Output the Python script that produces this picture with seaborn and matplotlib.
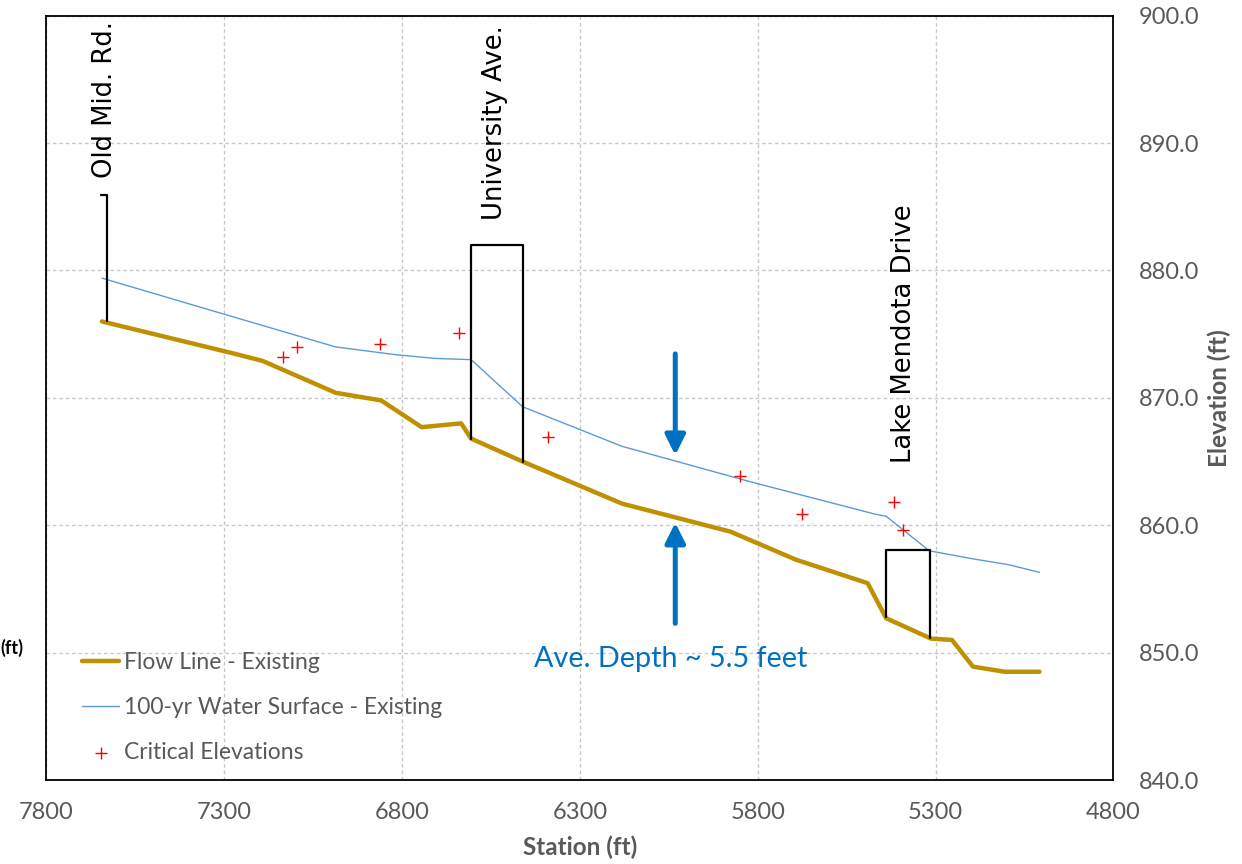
import matplotlib
matplotlib.use("Agg")
import matplotlib.pyplot as plt
import seaborn as sns
import pandas as pd
from matplotlib.ticker import MultipleLocator, FormatStrFormatter

# ---------------- data ----------------
flow_station = [7644, 7276, 7192, 6987, 6859, 6745, 6634, 6606, 6461, 6182,
                5877, 5693, 5491, 5439, 5313, 5254, 5195, 5106, 5008]
flow_elev = [876.0, 873.5, 872.9, 870.4, 869.8, 867.7, 868.0, 866.8, 865.0, 861.7,
             859.5, 857.3, 855.45, 852.7, 851.1, 851.0, 848.9, 848.5, 848.5]

ws_station = [7644, 7280, 6987, 6821, 6709, 6606, 6461, 6182, 5819, 5474,
              5439, 5318, 5203, 5094, 5008]
ws_elev = [879.4, 876.4, 874.0, 873.4, 873.1, 873.0, 869.3, 866.2, 863.4, 860.9,
           860.7, 858.0, 857.4, 856.9, 856.3]

crit_station = [7135, 7096, 6861, 6639, 6390, 5851, 5675, 5418, 5393]
crit_elev = [873.2, 874.0, 874.2, 875.1, 866.9, 863.9, 860.9, 861.8, 859.6]

old_mid_x = [7631, 7631, 7647]
old_mid_y = [876.0, 885.9, 885.9]
univ_x = [6606, 6606, 6461, 6461]
univ_y = [866.8, 882.0, 882.0, 865.0]
lake_x = [5439, 5439, 5315, 5315]
lake_y = [852.8, 858.05, 858.05, 851.15]

bridge_names = ["Old Mid. Rd.", "University Ave.", "Lake Mendota Drive"]
bridge_label_x = [7636, 6540, 5389]
bridge_label_y = [887.3, 883.95, 864.9]

depth_arrow_x = 6032
depth_down = (873.45, 865.5)
depth_up = (852.3, 860.2)
depth_text = "Ave. Depth ~ 5.5 feet"
depth_text_xy = (6046, 849.5)

x_ticks = [7800, 7300, 6800, 6300, 5800, 5300, 4800]

# ---------------- style ----------------
sns.set_theme(style="white")
plt.rcParams['font.family'] = ['Lato', 'DejaVu Sans']

GRAY = "#595959"
GOLD = "#BF9000"
BLUE = "#5B9BD5"
DARKBLUE = "#0070C0"

fig = plt.figure(figsize=(12.42, 8.64), dpi=100)
ax = fig.add_axes([0.0374, 0.0972, 0.8591, 0.8846])

flow_df = pd.DataFrame({"Station": flow_station, "Elevation": flow_elev})
ws_df = pd.DataFrame({"Station": ws_station, "Elevation": ws_elev})
crit_df = pd.DataFrame({"Station": crit_station, "Elevation": crit_elev})

sns.lineplot(data=flow_df, x="Station", y="Elevation", ax=ax, color=GOLD,
             linewidth=3.2, sort=False, estimator=None, label="Flow Line - Existing")
sns.lineplot(data=ws_df, x="Station", y="Elevation", ax=ax, color=BLUE,
             linewidth=1.0, sort=False, estimator=None,
             label="100-yr Water Surface - Existing")
sns.scatterplot(data=crit_df, x="Station", y="Elevation", ax=ax, color="red",
                marker="+", s=80, linewidth=1.0, label="Critical Elevations", zorder=5)

for bx, by in [(old_mid_x, old_mid_y), (univ_x, univ_y), (lake_x, lake_y)]:
    ax.plot(bx, by, color="black", linewidth=1.6, zorder=4)

for name, lx, ly in zip(bridge_names, bridge_label_x, bridge_label_y):
    ax.text(lx, ly, name, rotation=90, ha="center", va="bottom",
            fontsize=18.6, color="black", family="DejaVu Sans")

arrow_kw = dict(arrowstyle="-|>,head_width=0.6,head_length=1.2", lw=3.6,
                color=DARKBLUE, shrinkA=0, shrinkB=0, mutation_scale=10)
ax.annotate("", xy=(depth_arrow_x, depth_down[1]), xytext=(depth_arrow_x, depth_down[0]),
            arrowprops=arrow_kw)
ax.annotate("", xy=(depth_arrow_x, depth_up[1]), xytext=(depth_arrow_x, depth_up[0]),
            arrowprops=arrow_kw)
ax.text(depth_text_xy[0], depth_text_xy[1], depth_text, color=DARKBLUE,
        fontsize=20.7, ha="center", va="center")

# axes
ax.set_xlim(7800, 4800)
ax.set_ylim(840, 900)
ax.set_xticks(x_ticks)
ax.yaxis.set_major_locator(MultipleLocator(10))
ax.yaxis.set_major_formatter(FormatStrFormatter("%.1f"))
ax.yaxis.tick_right()
ax.yaxis.set_label_position("right")
ax.tick_params(axis="both", length=0, labelsize=17, colors=GRAY)
ax.tick_params(axis="x", pad=16)
ax.tick_params(axis="y", pad=18)
ax.grid(True, color="#C8C8C8", linestyle=(0, (2.6, 2.0)), linewidth=1.0)
ax.set_axisbelow(True)
for sp in ax.spines.values():
    sp.set_visible(True)
    sp.set_color("black")
    sp.set_linewidth(1.3)

ax.set_xlabel("Station (ft)", fontsize=17.5, fontweight="bold", color=GRAY, labelpad=9)
ax.set_ylabel("Elevation (ft)", fontsize=17.5, fontweight="bold", color=GRAY, labelpad=6)

leg = ax.legend(loc="upper left", bbox_to_anchor=(0.025, 0.179), frameon=False,
                fontsize=16.5, handlelength=1.6, handletextpad=0.2, labelspacing=1.04,
                borderaxespad=0)
for t in leg.get_texts():
    t.set_color(GRAY)

fig.text(0.0005, 1 - 648 / 864, "(ft)", ha="left", va="center", fontsize=13,
         fontweight="bold", color="black")

fig.savefig("out.png", dpi=100)
